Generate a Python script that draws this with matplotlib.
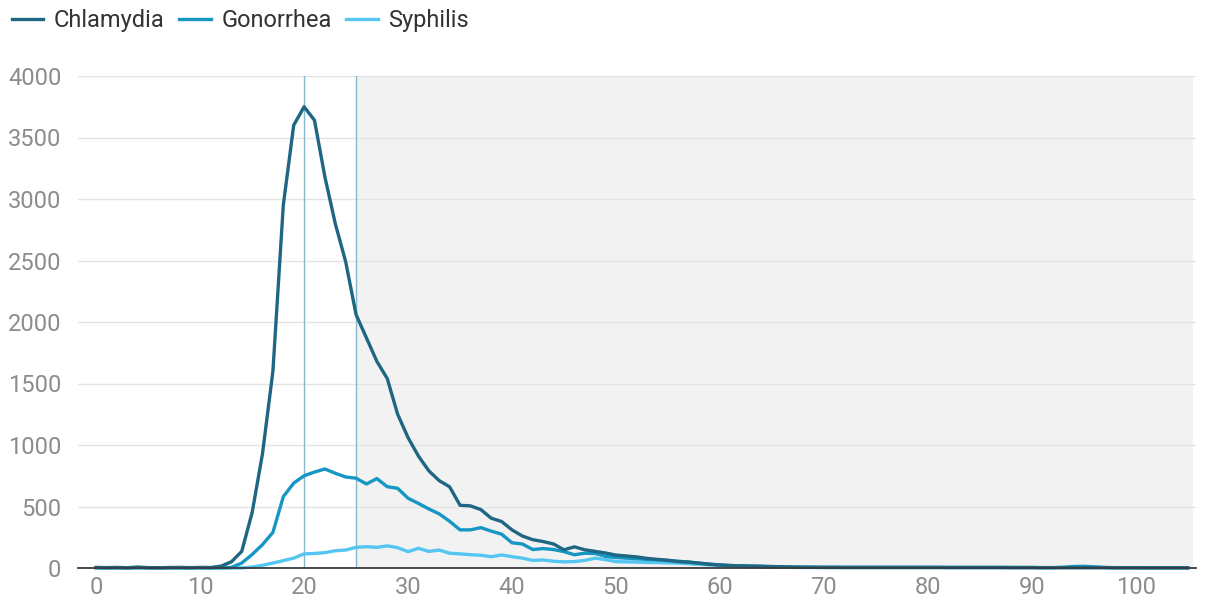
import matplotlib
matplotlib.use("Agg")
import matplotlib.pyplot as plt
import numpy as np

ages = list(range(0, 106))

chlamydia = [5, 3, 5, 2, 8, 3, 2, 4, 5, 3, 5, 4, 15, 50, 135, 450, 930, 1600, 2950, 3600,
             3750, 3640, 3180, 2800, 2490, 2060, 1870, 1680, 1540, 1250,
             1060, 910, 790, 710, 660, 510, 505, 475, 405, 378,
             310, 260, 230, 215, 195, 148, 172, 148, 135, 122,
             105, 98, 90, 78, 70, 62, 52, 48, 40, 30,
             24, 20, 18, 16, 15, 12, 10, 8, 7, 6,
             6, 6, 5, 5, 5, 5, 5, 5, 5, 5,
             5, 5, 5, 5, 5, 5, 5, 5, 4, 4,
             4, 3, 3, 3, 3, 3, 3, 3, 2, 2,
             2, 2, 2, 2, 2, 2]

gonorrhea = [2, 1, 2, 1, 3, 1, 1, 2, 1, 1, 2, 1, 2, 5, 40, 110, 190, 290, 580, 690,
             750, 780, 805, 770, 740, 730, 683, 727, 661, 648,
             567, 525, 480, 440, 380, 310, 310, 328, 300, 275,
             205, 195, 150, 158, 150, 133, 108, 120, 118, 95,
             85, 80, 75, 70, 66, 62, 55, 48, 38, 32,
             25, 20, 17, 14, 12, 10, 8, 7, 6, 6,
             5, 5, 5, 5, 5, 5, 5, 5, 5, 5,
             5, 5, 4, 4, 4, 4, 4, 4, 4, 4,
             4, 3, 3, 6, 12, 14, 10, 5, 3, 3,
             3, 2, 2, 2, 2, 2]

syphilis = [0, 0, 0, 0, 0, 0, 0, 0, 0, 0, 0, 0, 0, 0, 1, 8, 22, 40, 60, 80,
            115, 118, 125, 140, 146, 168, 173, 168, 180, 165,
            133, 160, 135, 146, 120, 115, 108, 104, 92, 106,
            92, 80, 62, 65, 55, 50, 52, 62, 80, 68,
            52, 50, 48, 45, 44, 42, 40, 35, 30, 25,
            22, 18, 15, 12, 10, 8, 6, 5, 4, 4,
            3, 3, 3, 3, 3, 3, 3, 3, 3, 3,
            3, 3, 2, 2, 2, 2, 2, 2, 2, 2,
            2, 2, 2, 2, 2, 2, 2, 2, 1, 1,
            1, 1, 1, 1, 1, 1]

series_names = ["Chlamydia", "Gonorrhea", "Syphilis"]
colors = ["#1e6682", "#1596c3", "#55c6f2"]
xticks = list(range(0, 101, 10))
yticks = list(range(0, 4001, 500))
marker_ages = [20, 25]
shade_range = [25, 105.5]

plt.rcParams['font.family'] = ['Roboto', 'DejaVu Sans']

fig = plt.figure(figsize=(12.11, 6.09), dpi=100)
ax = fig.add_axes([78 / 1211, 1 - 568 / 609, (1196 - 78) / 1211, (568 - 76) / 609])

ax.axvspan(shade_range[0], shade_range[1], color="#f2f2f2", zorder=0, lw=0)
for v in marker_ages:
    ax.axvline(v, color="#86b7cb", lw=1.0, zorder=1)

lines = []
for name, vals, c in reversed(list(zip(series_names, [chlamydia, gonorrhea, syphilis], colors))):
    ln, = ax.plot(ages, vals, color=c, lw=2.4, label=name, zorder=3, clip_on=False,
                  solid_joinstyle="round")
    lines.append(ln)
lines = lines[::-1]

ax.set_xlim(-1.75, 105.8)
ax.set_ylim(0, 4000)
ax.set_xticks(xticks)
ax.set_yticks(yticks)
ax.yaxis.grid(True, color="#e3e3e3", lw=1.0, zorder=0)
ax.set_axisbelow(True)
for s in ["top", "right", "left"]:
    ax.spines[s].set_visible(False)
ax.spines["bottom"].set_color("#3a3a3a")
ax.spines["bottom"].set_linewidth(1.3)
ax.spines["bottom"].set_zorder(4)
ax.tick_params(axis="both", length=0, labelsize=17, labelcolor="#8c8c8c")
ax.tick_params(axis="y", pad=12)
ax.tick_params(axis="x", pad=6)

fig.legend(lines, series_names, loc="upper left", bbox_to_anchor=(-0.008, 1.02), ncol=3,
           frameon=False, fontsize=17, handlelength=1.35, handletextpad=0.45,
           columnspacing=0.6, labelcolor="#333333")

fig.savefig("out.png", dpi=100)
